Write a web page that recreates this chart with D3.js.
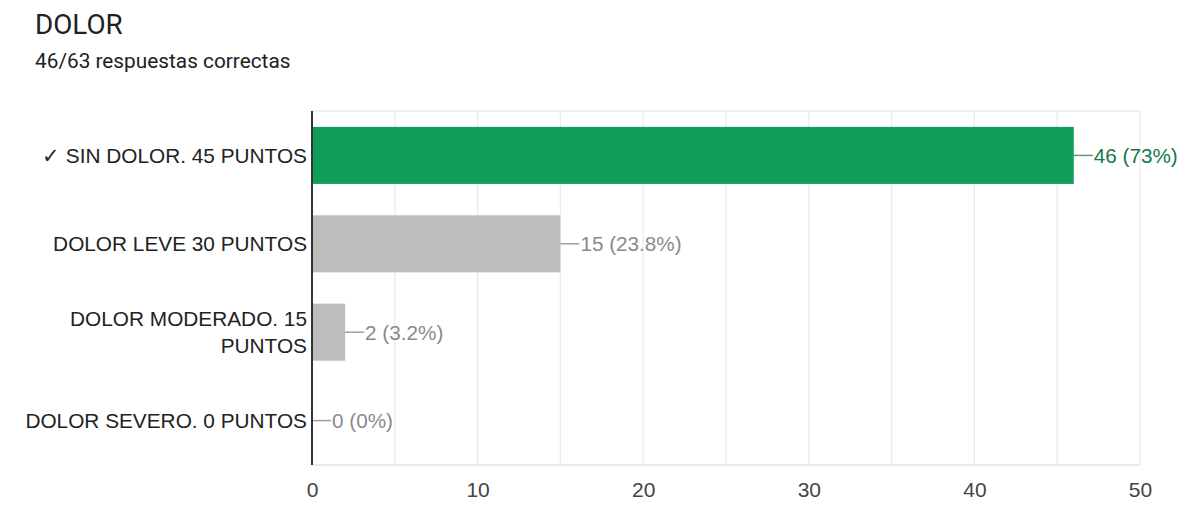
<!DOCTYPE html>
<html>
<head>
<meta charset="utf-8">
<script src="https://cdn.jsdelivr.net/npm/d3@7"></script>
<style>
  body { margin: 0; background: #fff; }
  svg { display: block; }
</style>
</head>
<body>
<svg id="chart" width="1195" height="529"></svg>
<script>
const title = 'DOLOR';
const subtitle = '46/63 respuestas correctas';
const categories = [
  '✓ SIN DOLOR. 45 PUNTOS',
  'DOLOR LEVE 30 PUNTOS',
  'DOLOR MODERADO. 15 PUNTOS',
  'DOLOR SEVERO. 0 PUNTOS',
];
const counts = [46, 15, 2, 0];
const percents = ['73%', '23.8%', '3.2%', '0%'];
const isCorrect = [true, false, false, false];
const xTicks = [0, 10, 20, 30, 40, 50];
const gridValues = [0, 5, 10, 15, 20, 25, 30, 35, 40, 45, 50];

const data = categories.map((c, i) => ({
  label: c,
  count: counts[i],
  pct: percents[i],
  correct: isCorrect[i],
}));

const margin = { top: 111, right: 55, bottom: 64, left: 312 };
const W = 1195, H = 529;
const width = W - margin.left - margin.right;
const height = H - margin.top - margin.bottom;

const svg = d3.select('#chart');
const labelFont = '"Liberation Sans", Arial, sans-serif';
const labelSize = 20.8;

// Header
svg.append('text')
  .attr('x', 35).attr('y', 34)
  .attr('font-family', 'Roboto, sans-serif')
  .attr('font-size', 27.8)
  .attr('fill', '#202124')
  .text(title);
svg.append('text')
  .attr('x', 35).attr('y', 68)
  .attr('font-family', 'Roboto, sans-serif')
  .attr('font-size', 20.8)
  .attr('fill', '#202124')
  .text(subtitle);

const xScale = d3.scaleLinear().domain([0, 50]).range([0, width]);
const yScale = d3.scaleBand()
  .domain(categories)
  .range([0, height])
  .paddingInner(0.355)
  .paddingOuter(0.18);

const chart = svg.append('g')
  .attr('transform', `translate(${margin.left},${margin.top})`);

// Gridlines
chart.append('g')
  .selectAll('line')
  .data(gridValues)
  .join('line')
  .attr('x1', (d) => xScale(d)).attr('x2', (d) => xScale(d))
  .attr('y1', 0).attr('y2', height)
  .attr('stroke', '#ebebeb')
  .attr('stroke-width', 1.3);
chart.append('line')
  .attr('x1', 0).attr('x2', width)
  .attr('y1', 0).attr('y2', 0)
  .attr('stroke', '#ebebeb').attr('stroke-width', 1.3);
chart.append('line')
  .attr('x1', 0).attr('x2', width)
  .attr('y1', height).attr('y2', height)
  .attr('stroke', '#e3e3e3').attr('stroke-width', 1.5);

// Bars
chart.append('g')
  .selectAll('rect')
  .data(data)
  .join('rect')
  .attr('x', 0)
  .attr('y', (d) => yScale(d.label))
  .attr('width', (d) => xScale(d.count))
  .attr('height', yScale.bandwidth())
  .attr('fill', (d) => (d.correct ? '#0f9d58' : '#bdbdbd'));

// Value labels with leader line
const valueG = chart.append('g')
  .selectAll('g')
  .data(data)
  .join('g')
  .attr('transform', (d) =>
    `translate(${xScale(d.count)},${yScale(d.label) + yScale.bandwidth() / 2})`);
valueG.append('line')
  .attr('x1', 0).attr('x2', 19)
  .attr('y1', 0).attr('y2', 0)
  .attr('stroke', (d) => (d.correct ? '#5f8f74' : '#9a9a9a'))
  .attr('stroke-width', 1.4);
valueG.append('text')
  .attr('x', 20)
  .attr('dy', '0.36em')
  .attr('font-family', labelFont)
  .attr('font-size', 20.7)
  .attr('fill', (d) => (d.correct ? '#137a4a' : '#8a8a8a'))
  .text((d) => `${d.count} (${d.pct})`);

// Y axis line
chart.append('line')
  .attr('x1', 0).attr('x2', 0)
  .attr('y1', 0).attr('y2', height)
  .attr('stroke', '#333')
  .attr('stroke-width', 2);

// Category labels (wrapped)
const catG = chart.append('g');
function wrapLines(text, maxWidth) {
  const probe = catG.append('text')
    .attr('font-family', labelFont)
    .attr('font-size', labelSize);
  const words = text.split(' ');
  const lines = [];
  let line = [];
  words.forEach((w) => {
    line.push(w);
    probe.text(line.join(' '));
    if (probe.node().getComputedTextLength() > maxWidth && line.length > 1) {
      line.pop();
      lines.push(line.join(' '));
      line = [w];
    }
  });
  lines.push(line.join(' '));
  probe.remove();
  return lines;
}

data.forEach((d) => {
  const lines = wrapLines(d.label, 292);
  const lh = 27;
  const cy = yScale(d.label) + yScale.bandwidth() / 2;
  const t = catG.append('text')
    .attr('text-anchor', 'end')
    .attr('font-family', labelFont)
    .attr('font-size', labelSize)
    .attr('fill', '#222');
  lines.forEach((l, i) => {
    t.append('tspan')
      .attr('x', -5)
      .attr('y', cy + 7.5 + (i - (lines.length - 1) / 2) * lh)
      .text(l);
  });
});

// X axis
const xAxis = d3.axisBottom(xScale).tickValues(xTicks).tickSize(0).tickPadding(17);
const xAxisG = chart.append('g')
  .attr('transform', `translate(0,${height})`)
  .call(xAxis);
xAxisG.select('.domain').remove();
xAxisG.selectAll('text')
  .attr('font-family', labelFont)
  .attr('font-size', 21)
  .attr('fill', '#444');
</script>
</body>
</html>
